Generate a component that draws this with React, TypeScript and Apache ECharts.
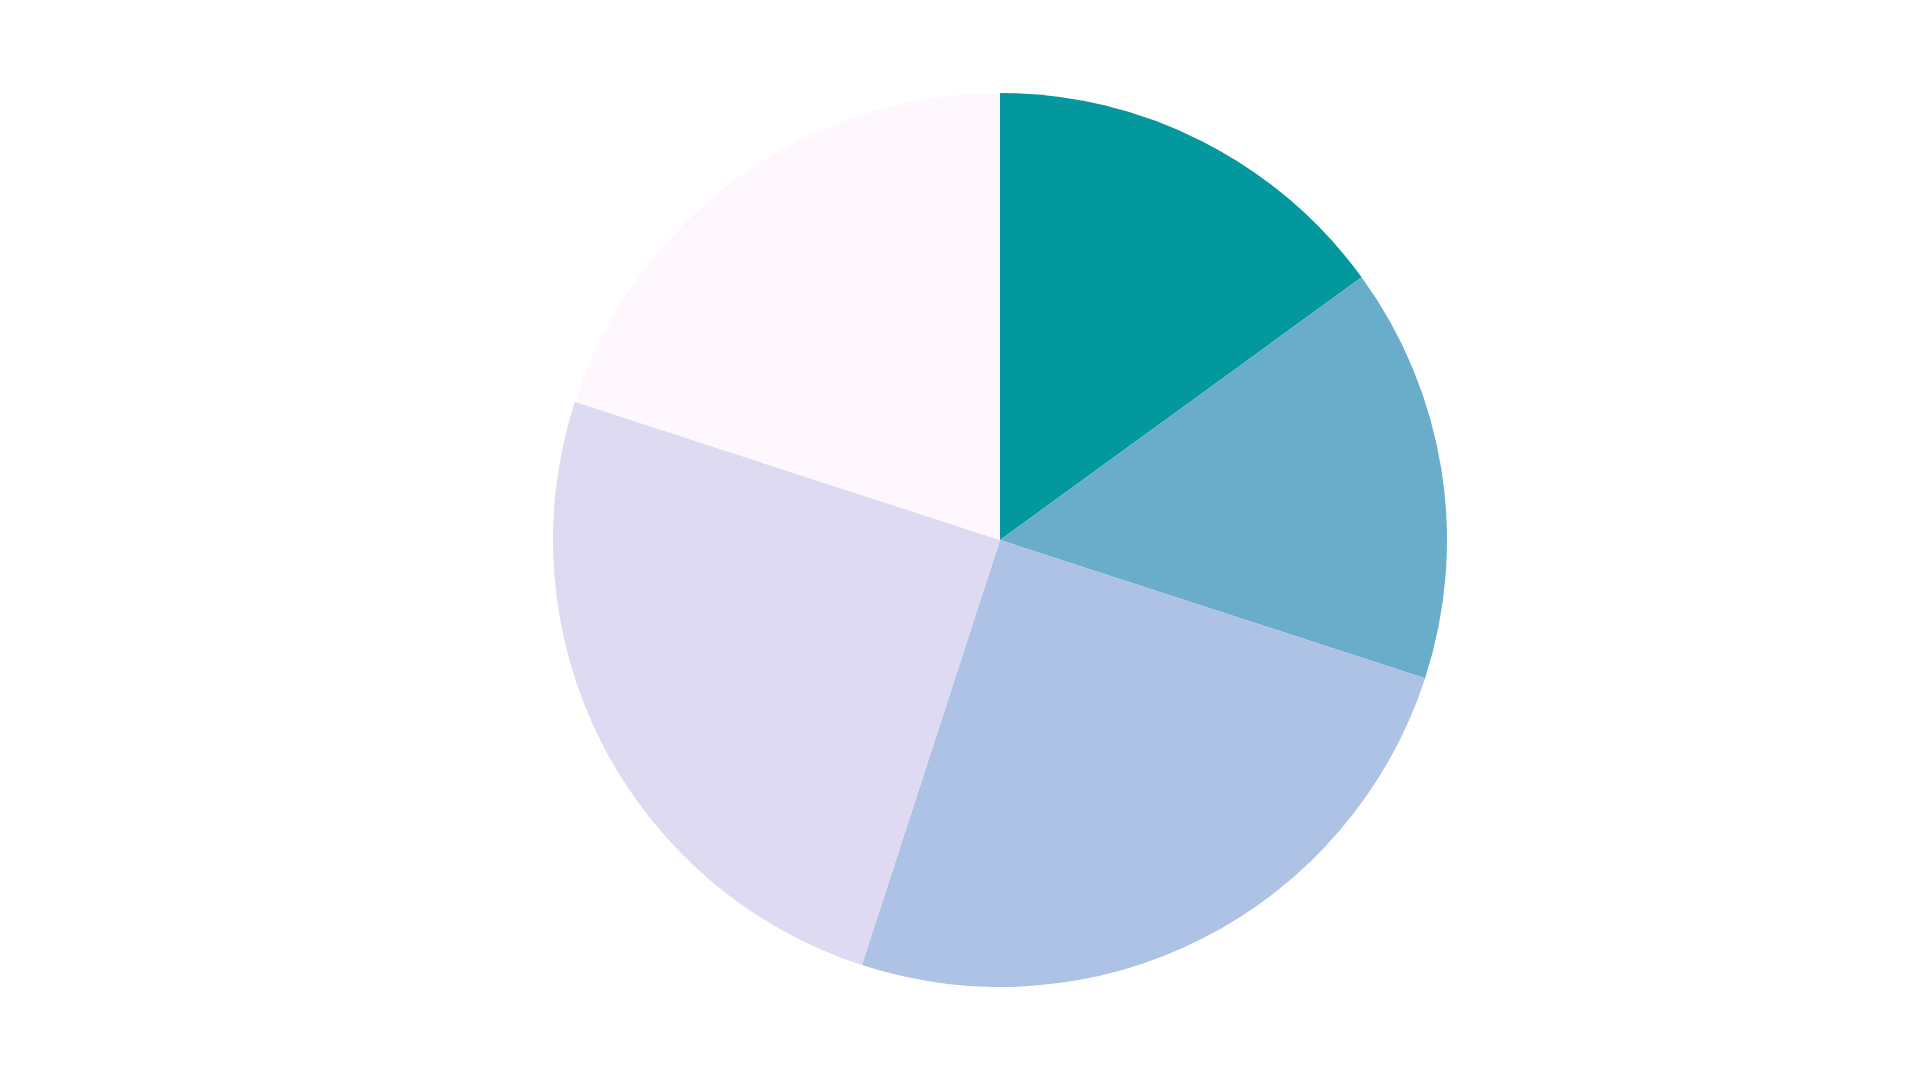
import React, { useEffect, useRef } from "react";
import * as echarts from "echarts";

const categories = ["A", "B", "C", "D", "E"];
const values = [15, 15, 25, 25, 20];
const colors = ["#03989e", "#69adca", "#adc2e4", "#dedaf1", "#fef7fd"];

export default function App() {
  const ref = useRef<HTMLDivElement>(null);
  useEffect(() => {
    if (!ref.current) return;
    const chart = echarts.init(ref.current, undefined, { renderer: "svg" });
    chart.setOption({
      animation: false,
      backgroundColor: "#ffffff",
      series: [
        {
          type: "pie",
          center: [1000, 540],
          radius: 447,
          startAngle: 90,
          clockwise: true,
          label: { show: false },
          labelLine: { show: false },
          itemStyle: { borderWidth: 0 },
          data: categories.map((name, i) => ({
            name,
            value: values[i],
            itemStyle: { color: colors[i] },
          })),
        },
      ],
    });
    return () => chart.dispose();
  }, []);
  return (
    <div
      ref={ref}
      style={{ position: "fixed", left: 0, top: 0, width: 1920, height: 1080 }}
    />
  );
}
